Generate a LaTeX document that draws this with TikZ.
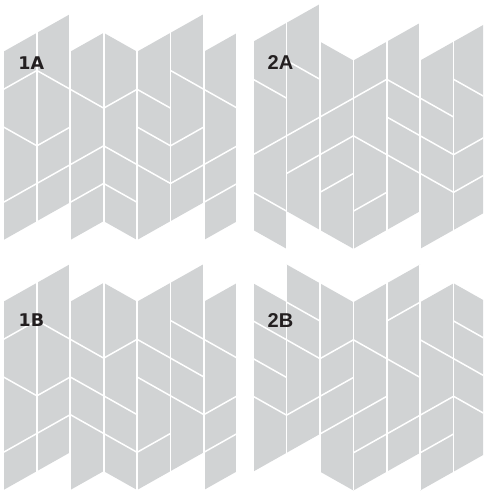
\documentclass[tikz,border=0pt]{standalone}
\usepackage{fontspec}
\usepackage{xcolor}
\usetikzlibrary{positioning}
\newfontfamily\labfontA{DejaVu Sans}
\newfontfamily\labfontB{Liberation Sans}
\definecolor{Tile}{HTML}{D1D3D4}
\definecolor{Ink}{HTML}{231F20}
% one column: left boundary, top levels, bottom levels, seams a/b
\newcommand{\tcol}[6]{%
  \fill[tile] (#1,#2) -- ({#1+1},#3) -- ({#1+1},#5) -- (#1,#4) -- cycle;
  \foreach \a/\b in {#6}{\draw[seam] (#1,\a) -- ({#1+1},\b);}
}

\begin{document}
\begin{tikzpicture}[x=1pt,y=-1pt,
  tile/.style={fill=Tile},
  seam/.style={draw=white,line width=1.5pt},
  gap/.style={draw=white,line width=1.7pt},
  grid/.style={x=33.4pt,y=-18.83pt},
  lblA/.style={text=Ink,inner sep=0pt,font=\labfontA\bfseries\fontsize{17.5}{18}\selectfont},
  lblB/.style={text=Ink,inner sep=0pt,font=\labfontB\bfseries\fontsize{20}{20}\selectfont}
]
\clip (0,0) rectangle (483,491);

\begin{scope}[shift={(3.5pt,-14pt)},grid]
\tcol{0}{2}{1}{12}{11}{4/3,6/7,10/9}
\tcol{1}{1}{0}{11}{10}{3/4,7/6,9/8}
\tcol{2}{2}{1}{12}{11}{4/5,8/7,10/9}
\tcol{3}{1}{2}{11}{12}{5/4,7/8,9/10}
\tcol{4}{2}{1}{12}{11}{4/5,6/7,8/9}
\tcol{5}{1}{0}{11}{10}{3/4,7/6,9/8}
\tcol{6}{2}{1}{12}{11}{4/5,8/7,10/9}
\foreach \i in {0,...,7}{\draw[gap] (\i,0) -- (\i,12);}
\end{scope}

\begin{scope}[shift={(3.5pt,-264pt)},grid]
\tcol{0}{2}{1}{12}{11}{4/3,6/7,10/9}
\tcol{1}{1}{0}{11}{10}{3/4,7/6,9/8}
\tcol{2}{2}{1}{12}{11}{4/5,6/7,8/9}
\tcol{3}{1}{2}{11}{12}{5/4,7/8,9/10}
\tcol{4}{2}{1}{12}{11}{4/5,6/7,10/9}
\tcol{5}{1}{0}{11}{10}{3/4,5/6,7/8}
\tcol{6}{2}{1}{12}{11}{4/5,8/7,10/9}
\foreach \i in {0,...,7}{\draw[gap] (\i,0) -- (\i,12);}
\end{scope}

\begin{scope}[shift={(253.2pt,-4pt)},grid]
\tcol{0}{2}{1}{12}{13}{4/5,8/7,10/11}
\tcol{1}{1}{0}{11}{12}{3/4,7/6,9/8}
\tcol{2}{2}{3}{12}{13}{6/5,8/7,10/9}
\tcol{3}{3}{2}{13}{12}{5/4,7/8,11/10}
\tcol{4}{2}{1}{12}{11}{4/5,6/7,8/9}
\tcol{5}{3}{2}{13}{12}{5/6,7/8,9/10}
\tcol{6}{2}{1}{12}{11}{4/5,8/7,10/9}
\foreach \i in {0,...,7}{\draw[gap] (\i,0) -- (\i,13);}
\end{scope}

\begin{scope}[shift={(253.2pt,-264.5pt)},grid]
\tcol{0}{1}{2}{11}{10}{3/4,5/6,7/8}
\tcol{1}{0}{1}{10}{9}{2/3,4/5,8/7}
\tcol{2}{1}{2}{11}{12}{5/4,7/6,9/8}
\tcol{3}{2}{1}{12}{11}{4/5,8/7,10/9}
\tcol{4}{1}{0}{11}{10}{3/2,5/6,9/8}
\tcol{5}{2}{1}{12}{11}{4/5,8/7,10/9}
\tcol{6}{1}{2}{11}{10}{3/4,5/6,7/8}
\foreach \i in {0,...,7}{\draw[gap] (\i,0) -- (\i,12);}
\end{scope}

\node[lblA] (lab1A) at (31.2,62.8) {1A};
\node[lblA] (lab1B) at (31.5,320) {1B};
\node[lblB] (lab2A) at (280.5,62.2) {2A};
\node[lblB] (lab2B) at (280.5,320.8) {2B};
\end{tikzpicture}
\end{document}
